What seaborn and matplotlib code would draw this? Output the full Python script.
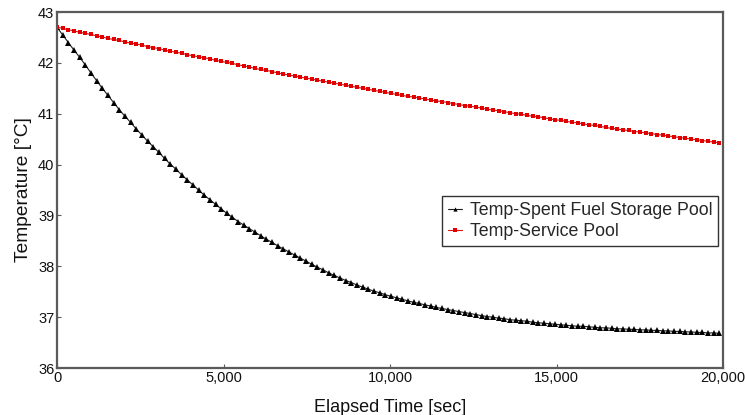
import matplotlib
matplotlib.use("Agg")
import matplotlib.pyplot as plt
from matplotlib.ticker import FuncFormatter
import seaborn as sns
import pandas as pd

# ---- data ----
elapsed_s = list(range(0, 20000, 170))  # sample times, 0 ... 19890 s

temp_spent_fuel_pool = [
    42.70, 42.55, 42.40, 42.25, 42.11, 41.96, 41.80, 41.65, 41.50, 41.36,
    41.22, 41.08, 40.95, 40.83, 40.70, 40.58, 40.46, 40.35, 40.24, 40.12,
    40.01, 39.91, 39.80, 39.70, 39.60, 39.50, 39.40, 39.31, 39.22, 39.13,
    39.04, 38.96, 38.88, 38.81, 38.74, 38.67, 38.60, 38.53, 38.47, 38.40,
    38.34, 38.28, 38.22, 38.16, 38.10, 38.04, 37.98, 37.93, 37.87, 37.82,
    37.77, 37.72, 37.68, 37.63, 37.59, 37.55, 37.51, 37.48, 37.44, 37.41,
    37.38, 37.35, 37.32, 37.29, 37.27, 37.24, 37.22, 37.19, 37.17, 37.15,
    37.13, 37.11, 37.09, 37.07, 37.05, 37.03, 37.01, 37.00, 36.98, 36.97,
    36.95, 36.94, 36.93, 36.92, 36.90, 36.89, 36.88, 36.87, 36.86, 36.85,
    36.84, 36.83, 36.82, 36.82, 36.81, 36.80, 36.79, 36.79, 36.78, 36.77,
    36.77, 36.76, 36.76, 36.75, 36.75, 36.74, 36.74, 36.73, 36.73, 36.72,
    36.72, 36.71, 36.71, 36.70, 36.70, 36.69, 36.69, 36.68,
]

temp_service_pool = [
    42.70, 42.68, 42.65, 42.63, 42.60, 42.58, 42.56, 42.53, 42.51, 42.48,
    42.46, 42.44, 42.41, 42.39, 42.37, 42.35, 42.32, 42.30, 42.28, 42.25,
    42.23, 42.21, 42.19, 42.16, 42.14, 42.12, 42.10, 42.08, 42.05, 42.03,
    42.01, 41.99, 41.96, 41.94, 41.92, 41.89, 41.87, 41.85, 41.83, 41.80,
    41.78, 41.76, 41.74, 41.72, 41.70, 41.68, 41.66, 41.64, 41.62, 41.60,
    41.58, 41.56, 41.54, 41.52, 41.50, 41.48, 41.46, 41.44, 41.42, 41.40,
    41.38, 41.36, 41.34, 41.33, 41.31, 41.29, 41.27, 41.25, 41.24, 41.22,
    41.20, 41.18, 41.16, 41.15, 41.13, 41.11, 41.09, 41.07, 41.06, 41.04,
    41.02, 41.00, 40.99, 40.97, 40.95, 40.94, 40.92, 40.90, 40.88, 40.87,
    40.85, 40.83, 40.82, 40.80, 40.78, 40.77, 40.75, 40.73, 40.71, 40.70,
    40.68, 40.67, 40.65, 40.64, 40.62, 40.61, 40.59, 40.58, 40.56, 40.55,
    40.53, 40.52, 40.50, 40.49, 40.47, 40.46, 40.44, 40.43,
]

series_names = ["Temp-Spent Fuel Storage Pool", "Temp-Service Pool"]
x_ticks = [0, 5000, 10000, 15000, 20000]
y_ticks = [36, 37, 38, 39, 40, 41, 42, 43]
x_label = "Elapsed Time [sec]"
y_label = "Temperature [°C]"

# ---- styling ----
sns.set_style("white")
plt.rcParams["font.family"] = ["Liberation Sans", "DejaVu Sans"]

fig = plt.figure(figsize=(7.45, 4.15), dpi=100)
ax = fig.add_axes([57 / 745, 1 - 368 / 415, 666 / 745, 356 / 415])

df1 = pd.DataFrame({"t": elapsed_s, "T": temp_spent_fuel_pool})
df2 = pd.DataFrame({"t": elapsed_s, "T": temp_service_pool})

sns.lineplot(data=df1, x="t", y="T", ax=ax, color="#202020", linewidth=0.8,
             marker="^", markersize=3.8, markerfacecolor="black",
             markeredgewidth=0, label=series_names[0])
sns.lineplot(data=df2, x="t", y="T", ax=ax, color="#e31010", linewidth=0.8,
             marker="s", markersize=3.3, markerfacecolor="#e00000",
             markeredgewidth=0, label=series_names[1])

ax.set_xlim(x_ticks[0], x_ticks[-1])
ax.set_ylim(y_ticks[0], y_ticks[-1])
ax.set_xticks(x_ticks)
ax.set_yticks(y_ticks)
ax.xaxis.set_major_formatter(FuncFormatter(lambda v, p: f"{v:,.0f}"))

for s in ax.spines.values():
    s.set_color("#5a5a5a")
    s.set_linewidth(1.6)

ax.tick_params(axis="both", direction="in", length=3, width=0.8,
               color="#5a5a5a", labelsize=10.5, labelcolor="#111111",
               pad=2, left=True, bottom=True)

ax.set_xlabel(x_label, fontsize=13, labelpad=10.5, color="#111111")
ax.set_ylabel(y_label, fontsize=13.8, labelpad=4, color="#111111")

leg = ax.legend(loc="upper left", bbox_to_anchor=(0.578, 0.483),
                borderaxespad=0, fontsize=12.8, frameon=True, fancybox=False,
                handlelength=0.8, handletextpad=0.4, labelspacing=0.2,
                borderpad=0.35, markerscale=0.8)
leg.get_frame().set_edgecolor("black")
leg.get_frame().set_linewidth(1.0)

fig.savefig("out.png", dpi=100)
